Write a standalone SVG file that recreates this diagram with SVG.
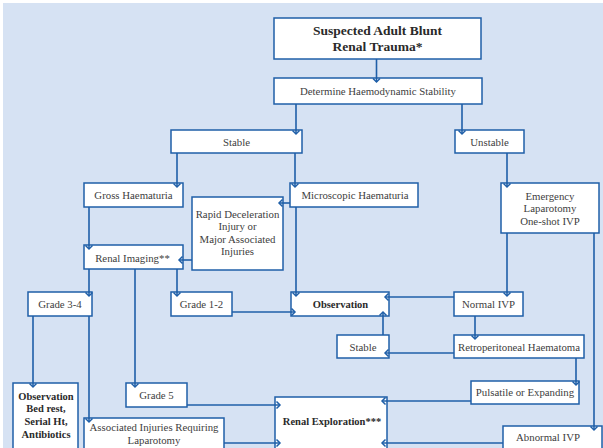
<svg xmlns="http://www.w3.org/2000/svg" width="603" height="448" viewBox="0 0 603 448">
<defs>
<style>
.bg{fill:#d6e2f3}
.box{fill:#fff;stroke:#1f5fa8;stroke-width:1.5}
.t{font-family:'Liberation Serif','Times New Roman',Times,serif;font-size:10.8px;fill:#404040;text-anchor:middle}
.b{font-weight:bold;fill:#2a2a2a;font-size:10.5px}
.title{font-size:13.5px}
.c path{fill:none;stroke:#1f5fa8;stroke-width:1.6;marker-end:url(#arr)}
</style>
<marker id="arr" markerUnits="userSpaceOnUse" markerWidth="10" markerHeight="10" viewBox="0 0 10 10" refX="5" refY="5" orient="auto">
<path d="M1.5,1.5 L5,5 L1.5,8.5" fill="none" stroke="#1f5fa8" stroke-width="1.5"/>
</marker>
</defs>
<rect x="0" y="0" width="603" height="448" fill="#fff"/>
<rect class="bg" x="3" y="3" width="600" height="445"/>

<g id="title"><rect class="box" x="274" y="18" width="207" height="41"/>
<text class="t b title" x="377.5" y="35">Suspected Adult Blunt</text>
<text class="t b title" x="377.5" y="50.5">Renal Trauma*</text></g>
<g id="determine"><rect class="box" x="274" y="78" width="208" height="26"/>
<text class="t" x="378" y="95">Determine Haemodynamic Stability</text></g>
<g id="stable"><rect class="box" x="171" y="130" width="131" height="23"/>
<text class="t" x="236.5" y="146">Stable</text></g>
<g id="unstable"><rect class="box" x="455" y="130" width="69" height="23"/>
<text class="t" x="489.5" y="146">Unstable</text></g>
<g id="gross"><rect class="box" x="84" y="183" width="99" height="24"/>
<text class="t" x="133.5" y="199">Gross Haematuria</text></g>
<g id="micro"><rect class="box" x="290" y="183" width="128" height="24"/>
<text class="t" x="355" y="199">Microscopic Haematuria</text></g>
<g id="rapid"><rect class="box" x="192" y="197" width="91" height="73"/>
<text class="t" x="237.5" y="217.5">Rapid Deceleration</text>
<text class="t" x="237.5" y="230">Injury or</text>
<text class="t" x="237.5" y="242.5">Major Associated</text>
<text class="t" x="237.5" y="255">Injuries</text></g>
<g id="emergency"><rect class="box" x="501" y="183" width="98" height="50"/>
<text class="t" x="550" y="199.5">Emergency</text>
<text class="t" x="550" y="212">Laparotomy</text>
<text class="t" x="550" y="224.5">One-shot IVP</text></g>
<g id="renalImaging"><rect class="box" x="84" y="245" width="99" height="24"/>
<text class="t" x="132.5" y="261.5">Renal Imaging**</text></g>
<g id="grade34"><rect class="box" x="28" y="292" width="64" height="24"/>
<text class="t" x="60" y="308">Grade 3-4</text></g>
<g id="grade12"><rect class="box" x="171" y="292" width="61" height="24"/>
<text class="t" x="201.5" y="308">Grade 1-2</text></g>
<g id="observation"><rect class="box" x="291" y="292" width="98" height="24"/>
<text class="t b" x="340.5" y="308">Observation</text></g>
<g id="normalIVP"><rect class="box" x="454" y="292" width="69" height="24"/>
<text class="t" x="488.5" y="308">Normal IVP</text></g>
<g id="stable2"><rect class="box" x="337" y="335" width="52" height="23"/>
<text class="t" x="363" y="351">Stable</text></g>
<g id="retro"><rect class="box" x="454" y="335" width="130" height="23"/>
<text class="t" x="519" y="351">Retroperitoneal Haematoma</text></g>
<g id="pulsatile"><rect class="box" x="471" y="381" width="108" height="23"/>
<text class="t" x="525" y="395.5">Pulsatile or Expanding</text></g>
<g id="grade5"><rect class="box" x="126" y="383" width="61" height="24"/>
<text class="t" x="156.5" y="399">Grade 5</text></g>
<g id="obsBed"><rect class="box" x="13" y="383" width="65" height="75"/>
<text class="t b" x="46" y="399.5">Observation</text>
<text class="t b" x="46" y="412">Bed rest,</text>
<text class="t b" x="46" y="424.5">Serial Ht,</text>
<text class="t b" x="46" y="437.5">Antibiotics</text></g>
<g id="associated"><rect class="box" x="84" y="418" width="140" height="40"/>
<text class="t" x="154" y="430.5">Associated Injuries Requiring</text>
<text class="t" x="154" y="443.5">Laparotomy</text></g>
<g id="renalExploration"><rect class="box" x="275" y="397" width="112" height="60"/>
<text class="t b" x="332" y="424.5">Renal Exploration***</text></g>
<g id="abnormalIVP"><rect class="box" x="503" y="426" width="99" height="30"/>
<text class="t" x="548" y="440.5">Abnormal IVP</text></g>

<g class="c" id="connectors">
<path d="M376.5,59 V82"/>
<path d="M296,104 V134"/>
<path d="M462,104 V134"/>
<path d="M177,153 V187"/>
<path d="M295,153 V187"/>
<path d="M507,153 V187"/>
<path d="M290,203 H279"/>
<path d="M89,207 V249"/>
<path d="M192,260 H179"/>
<path d="M296,207 V296"/>
<path d="M89,269 V296"/>
<path d="M177,269 V296"/>
<path d="M232,312 H295"/>
<path d="M507,233 V296"/>
<path d="M454,297 H385"/>
<path d="M594,233 V430"/>
<path d="M33,316 V387"/>
<path d="M89,316 V422"/>
<path d="M135,269 V387"/>
<path d="M187,405 H280"/>
<path d="M224,443 H280"/>
<path d="M475,316 V339"/>
<path d="M454,353 H385"/>
<path d="M383,335 V312"/>
<path d="M576,358 V385"/>
<path d="M471,401 H382"/>
<path d="M503,443 H382"/>
</g>
</svg>
